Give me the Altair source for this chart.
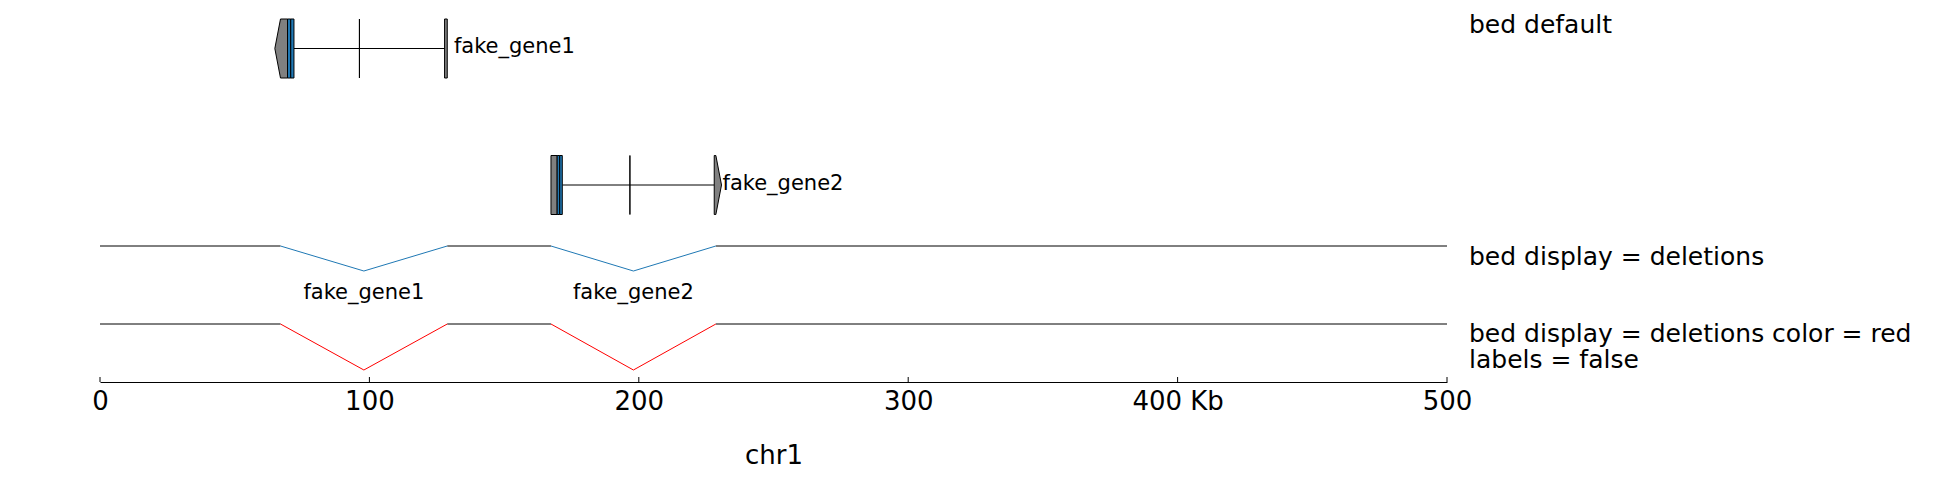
import altair as alt
import pandas as pd

# ---------------- data (positions in Kb on chr1) ----------------
gene_names = ["fake_gene1", "fake_gene2"]
gene_strands = ["-", "+"]
gene_starts = [67.0, 167.4]
gene_ends = [128.9, 228.6]
thick_starts = [69.6, 169.7]
thick_ends = [72.0, 171.6]
exon_starts = [[67.0, 96.3, 127.9], [167.4, 196.7, 228.0]]
exon_ends = [[72.0, 96.3, 128.9], [171.6, 196.7, 228.6]]
region = [0, 500]
tick_values = [0, 100, 200, 300, 400, 500]
chrom_name = "chr1"
track_titles = [["bed default"],
                ["bed display = deletions"],
                ["bed display = deletions color = red", "labels = false"]]

# ---------------- layout (page pixels, y grows downward) ----------------
PLOT_LEFT = 100
PLOT_W = 1347
VIEW_TOP = 8
AXIS_Y = 382
ROW_CENTERS = [48.5, 185.0]
HALF_H = 29.5
ARROW_KB = 2.1
DEL_BASE = [246.0, 324.0]
DEL_DEPTH = [25.0, 46.0]
DEL_COLORS = ["#1f78b4", "#ff0000"]
DEL_SHOW_LABELS = [True, False]
DEL_LABEL_GAP = 21.7
TITLE_X = 1469
TITLE_BASELINES = [[33.3], [265.0], [341.7, 368.3]]
FONT = "DejaVu Sans"

# ---------------- build tables ----------------
introns, utr_rects, cds_rects, arrows, labels = [], [], [], [], []
for i, name in enumerate(gene_names):
    c = ROW_CENTERS[i]
    top, bot = c - HALF_H, c + HALF_H
    ts, te = thick_starts[i], thick_ends[i]
    es, ee = exon_starts[i], exon_ends[i]
    strand = gene_strands[i]
    introns.append(dict(x=ee[0], x2=es[-1], y=c))
    n = len(es)
    for j in range(n):
        s, e = es[j], ee[j]
        if e <= ts or s >= te:
            utr = [(s, e)]
        else:
            utr = []
            if s < ts:
                utr.append((s, ts))
            if e > te:
                utr.append((te, e))
            mid = (max(s, ts) + min(e, te)) / 2
            cds_rects.append(dict(x=max(s, ts), x2=mid, y=top, y2=bot))
            cds_rects.append(dict(x=mid, x2=min(e, te), y=top, y2=bot))
        for (a, b) in utr:
            if strand == "-" and j == 0 and a == s:
                g = f"{name}_arrow"
                arrows += [dict(g=g, x=a - ARROW_KB, y=c, y2=c),
                           dict(g=g, x=a, y=top, y2=bot),
                           dict(g=g, x=b, y=top, y2=bot)]
            elif strand == "+" and j == n - 1 and b == e:
                g = f"{name}_arrow"
                arrows += [dict(g=g, x=a, y=top, y2=bot),
                           dict(g=g, x=b, y=top, y2=bot),
                           dict(g=g, x=b + ARROW_KB, y=c, y2=c)]
            else:
                utr_rects.append(dict(x=a, x2=b, y=top, y2=bot))
    labels.append(dict(x=gene_ends[i] + ARROW_KB, y=c - 1.5, t=name))

del_base, del_v, del_labels = [], [], []
for k in range(len(DEL_BASE)):
    b, d = DEL_BASE[k], DEL_DEPTH[k]
    edges = [region[0]]
    for i in range(len(gene_names)):
        edges += [gene_starts[i], gene_ends[i]]
    edges.append(region[1])
    for m in range(0, len(edges), 2):
        del_base.append(dict(x=edges[m], x2=edges[m + 1], y=b))
    for i, name in enumerate(gene_names):
        mid = (gene_starts[i] + gene_ends[i]) / 2
        g = f"{k}_{name}"
        del_v += [dict(g=g, col=DEL_COLORS[k], x=gene_starts[i], y=b),
                  dict(g=g, col=DEL_COLORS[k], x=mid, y=b + d),
                  dict(g=g, col=DEL_COLORS[k], x=gene_ends[i], y=b)]
        if DEL_SHOW_LABELS[k]:
            del_labels.append(dict(x=mid, y=b + d + DEL_LABEL_GAP, t=name))

titles = []
for lines, ys in zip(track_titles, TITLE_BASELINES):
    for t, y in zip(lines, ys):
        titles.append(dict(t=t, y=y))

ticks = [dict(x=v, y=AXIS_Y, y2=AXIS_Y - 5) for v in tick_values]

# ---------------- encodings ----------------
xs = alt.Scale(domain=region, nice=False, zero=False)
ys = alt.Scale(domain=[VIEW_TOP, AXIS_Y], reverse=True, nice=False, zero=False)
xaxis = alt.Axis(values=tick_values, ticks=False, tickSize=0, labelPadding=27,
                 labelBaseline="alphabetic", labelFontSize=26, labelFont=FONT,
                 labelColor="black", domainColor="black", domainWidth=1,
                 labelFlush=False, labelOverlap=False, grid=False,
                 labelExpr="datum.value == 400 ? '400 Kb' : datum.label",
                 title=chrom_name, titleFont=FONT, titleFontSize=26,
                 titleFontWeight="normal", titleColor="black",
                 titleY=81, titleBaseline="alphabetic")
X = alt.X("x:Q", scale=xs, axis=xaxis)
Y = alt.Y("y:Q", scale=ys, axis=None, stack=False)

intron_layer = alt.Chart(pd.DataFrame(introns)).mark_rule(color="black", strokeWidth=1).encode(
    x=X, x2="x2:Q", y=Y)
utr_layer = alt.Chart(pd.DataFrame(utr_rects)).mark_rect(
    color="#808080", stroke="black", strokeWidth=1).encode(x=X, x2="x2:Q", y=Y, y2="y2:Q")
cds_layer = alt.Chart(pd.DataFrame(cds_rects)).mark_rect(
    color="#1f78b4", stroke="black", strokeWidth=1).encode(x=X, x2="x2:Q", y=Y, y2="y2:Q")
arrow_layer = alt.Chart(pd.DataFrame(arrows)).mark_area(
    orient="vertical", color="#808080", stroke="black", strokeWidth=1).encode(
    x=X, y=Y, y2="y2:Q", detail="g:N")
label_layer = alt.Chart(pd.DataFrame(labels)).mark_text(
    align="left", baseline="middle", dx=1, fontSize=21, font=FONT, color="black").encode(
    x=X, y=Y, text="t:N")

base_layer = alt.Chart(pd.DataFrame(del_base)).mark_rule(color="black", strokeWidth=1).encode(
    x=X, x2="x2:Q", y=Y)
v_layer = alt.Chart(pd.DataFrame(del_v)).mark_line(strokeWidth=1).encode(
    x=X, y=Y, detail="g:N", color=alt.Color("col:N", scale=None), order="x:Q")
del_label_layer = alt.Chart(pd.DataFrame(del_labels)).mark_text(
    align="center", baseline="middle", fontSize=21, font=FONT, color="black").encode(
    x=X, y=Y, text="t:N")

title_layer = alt.Chart(pd.DataFrame(titles)).mark_text(
    align="left", baseline="alphabetic", fontSize=25, font=FONT, color="black").encode(
    x=alt.value(TITLE_X - PLOT_LEFT), y=Y, text="t:N")

tick_layer = alt.Chart(pd.DataFrame(ticks)).mark_rule(color="black", strokeWidth=1).encode(
    x=X, y=Y, y2="y2:Q")

chart = alt.layer(
    intron_layer, utr_layer, cds_layer, arrow_layer, label_layer,
    base_layer, v_layer, del_label_layer, title_layer, tick_layer
).properties(
    width=PLOT_W, height=AXIS_Y - VIEW_TOP,
    autosize=alt.AutoSizeParams(type="none"),
    padding={"left": PLOT_LEFT - 8, "top": 0, "right": 1928 - (PLOT_LEFT - 8) - PLOT_W,
             "bottom": 467 - (AXIS_Y - VIEW_TOP)},
).configure(font=FONT).configure_view(strokeWidth=0, strokeOpacity=0)

chart.save("out.html", embed_options={"renderer": "svg", "actions": False})
